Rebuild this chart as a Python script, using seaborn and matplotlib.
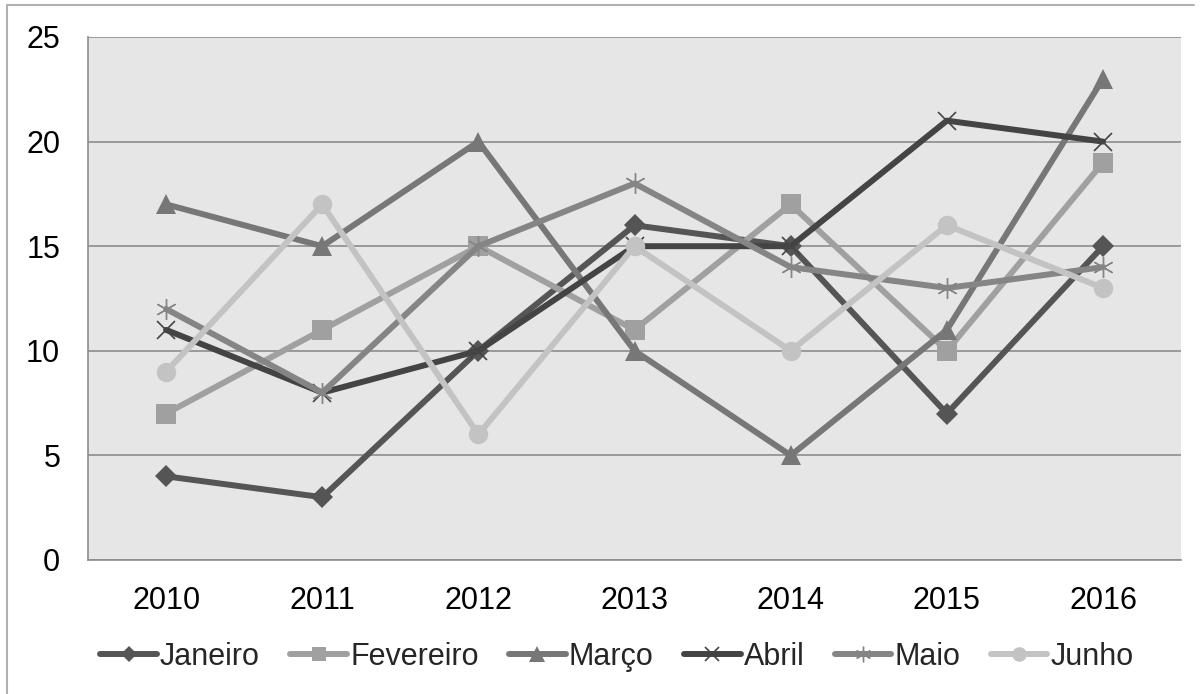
import matplotlib
matplotlib.use("Agg")
import matplotlib.pyplot as plt
from matplotlib.lines import Line2D
import seaborn as sns
import pandas as pd

# Valores mensais por ano
anos = ["2010", "2011", "2012", "2013", "2014", "2015", "2016"]
janeiro = [4, 3, 10, 16, 15, 7, 15]
fevereiro = [7, 11, 15, 11, 17, 10, 19]
marco = [17, 15, 20, 10, 5, 11, 23]
abril = [11, 8, 10, 15, 15, 21, 20]
maio = [12, 8, 15, 18, 14, 13, 14]
junho = [9, 17, 6, 15, 10, 16, 13]
meses = ["Janeiro", "Fevereiro", "Março", "Abril", "Maio", "Junho"]
series = [janeiro, fevereiro, marco, abril, maio, junho]

df = pd.DataFrame({
    "ano": anos * len(meses),
    "mes": [m for m in meses for _ in anos],
    "valor": [v for s in series for v in s],
})

sns.set_theme(style="white")
plt.rcParams["font.family"] = ["Liberation Sans", "DejaVu Sans"]

estilos = {
    "Janeiro":   dict(color="#555555", marker="D", ms=11, mew=0),
    "Fevereiro": dict(color="#a0a0a0", marker="s", ms=14, mew=0),
    "Março":     dict(color="#777777", marker="^", ms=15, mew=0),
    "Abril":     dict(color="#444444", marker="x", ms=13, mew=1.2),
    "Maio":      dict(color="#858585", marker=(6, 2, 0), ms=15, mew=1.0),
    "Junho":     dict(color="#c3c3c3", marker="o", ms=14, mew=0),
}

fig = plt.figure(figsize=(12.04, 6.94), dpi=100)
ax = fig.add_axes([0.0731, 0.1931, 0.9079, 0.7536])
ax.set_facecolor("#e6e6e6")

for mes in meses:
    st = estilos[mes]
    sub = df[df["mes"] == mes]
    sns.lineplot(
        data=sub, x="ano", y="valor", ax=ax, label=mes,
        color=st["color"], linewidth=4.3, marker=st["marker"],
        markersize=st["ms"], markeredgewidth=st["mew"],
        markeredgecolor=st["color"], markerfacecolor=st["color"],
        sort=False,
    )

ax.set_xlim(-0.5, 6.5)
ax.set_ylim(0, 25)
ax.set_yticks([0, 5, 10, 15, 20, 25])
ax.set_xlabel("")
ax.set_ylabel("")
ax.yaxis.grid(True, color="#8c8c8c", linewidth=1.2)
ax.xaxis.grid(False)
ax.set_axisbelow(True)
for side in ["top", "right"]:
    ax.spines[side].set_visible(False)
for side in ["left", "bottom"]:
    ax.spines[side].set_color("#8c8c8c")
    ax.spines[side].set_linewidth(1.2)
ax.tick_params(axis="both", length=0, labelsize=22, labelcolor="black")
ax.tick_params(axis="y", pad=20)
ax.tick_params(axis="x", pad=19)

leg = ax.legend(
    loc="center", bbox_to_anchor=(0.5125, 0.0533), bbox_transform=fig.transFigure,
    ncol=6, frameon=False, fontsize=22, handlelength=1.85, handletextpad=0.1,
    columnspacing=1.0, markerscale=0.75,
)

# Moldura do gráfico (bordas superior e esquerda)
fig.add_artist(Line2D([0.0058, 0.9917], [0.9928, 0.9928], transform=fig.transFigure,
                      color="#b0b0b0", linewidth=1.5))
fig.add_artist(Line2D([0.0058, 0.0058], [0.0, 0.9928], transform=fig.transFigure,
                      color="#b0b0b0", linewidth=1.5))

fig.savefig("out.png", dpi=100, facecolor="white")
